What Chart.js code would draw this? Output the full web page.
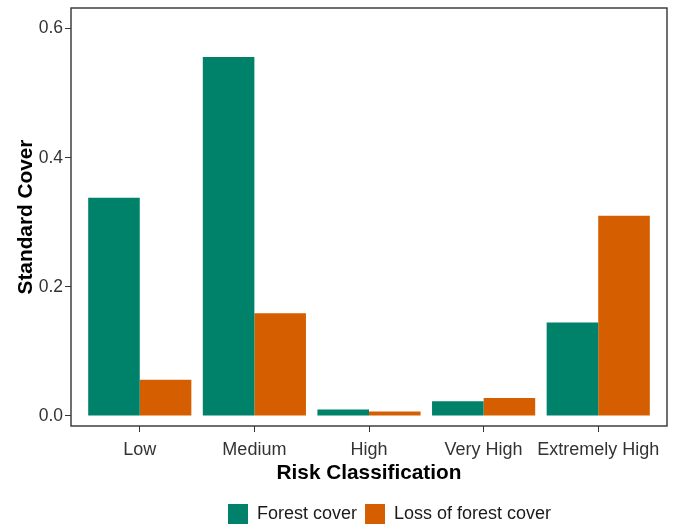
<!DOCTYPE html>
<html lang="en">
<head>
    <meta charset="UTF-8">
    <script src="https://cdn.jsdelivr.net/npm/chart.js"></script>
    <title>Standard Cover by Risk Classification</title>
    <style>
        html, body { margin: 0; padding: 0; background: #fff; }
        #wrap { width: 678px; height: 525px; }
    </style>
</head>
<body>
    <div id="wrap"><canvas id="riskChart" width="678" height="525"></canvas></div>

    <script>
        // data
        const categories = ['Low', 'Medium', 'High', 'Very High', 'Extremely High'];
        const forestCover = [0.338, 0.556, 0.010, 0.023, 0.145];
        const lossOfForestCover = [0.056, 0.159, 0.007, 0.028, 0.310];
        const yTicks = [0, 0.2, 0.4, 0.6];

        const green = '#00826A';
        const orange = '#D55E00';
        const fontFamily = '"Liberation Sans", Arial, sans-serif';

        // panel border like ggplot theme
        const panelBorder = {
            id: 'panelBorder',
            afterDraw(chart) {
                const a = chart.chartArea;
                const ctx = chart.ctx;
                ctx.save();
                ctx.strokeStyle = '#333333';
                ctx.lineWidth = 1.4;
                ctx.strokeRect(a.left, a.top, a.right - a.left, a.bottom - a.top);
                ctx.restore();
            }
        };

        // ggplot centres the legend under the panel, a bit right of the canvas middle
        const legendShift = {
            id: 'legendShift',
            afterLayout(chart) {
                const lg = chart.legend;
                const w = lg.right - lg.left;
                lg.left = 220;
                lg.right = lg.left + w;
            }
        };

        const ctx = document.getElementById('riskChart').getContext('2d');
        new Chart(ctx, {
            type: 'bar',
            data: {
                datasets: [
                    {
                        label: 'Forest cover',
                        data: forestCover.map((v, i) => ({ x: i + 1, y: v })),
                        backgroundColor: green,
                        borderWidth: 0
                    },
                    {
                        label: 'Loss of forest cover',
                        data: lossOfForestCover.map((v, i) => ({ x: i + 1, y: v })),
                        backgroundColor: orange,
                        borderWidth: 0
                    }
                ]
            },
            options: {
                responsive: false,
                animation: false,
                devicePixelRatio: 1,
                categoryPercentage: 0.9,
                barPercentage: 1.0,
                layout: { padding: { left: 0, right: 11, top: 8, bottom: -9 } },
                plugins: {
                    tooltip: { enabled: false },
                    legend: {
                        position: 'bottom',
                        align: 'start',
                        labels: {
                            boxWidth: 20,
                            boxHeight: 20,
                            padding: 8,
                            color: '#1a1a1a',
                            font: { family: fontFamily, size: 18 }
                        }
                    }
                },
                scales: {
                    x: {
                        type: 'linear',
                        min: 0.4,
                        max: 5.6,
                        offset: false,
                        afterBuildTicks: s => { s.ticks = categories.map((c, i) => ({ value: i + 1 })); },
                        afterFit: s => { s.height = 70; s.paddingLeft = 0; s.paddingRight = 0; },
                        grid: {
                            offset: false,
                            drawOnChartArea: false,
                            tickLength: 6,
                            tickColor: '#333333'
                        },
                        border: { display: false },
                        ticks: {
                            color: '#333333',
                            padding: 7,
                            maxRotation: 0,
                            autoSkip: false,
                            font: { family: fontFamily, size: 18 },
                            callback: v => categories[v - 1]
                        },
                        title: {
                            display: true,
                            text: 'Risk Classification',
                            color: '#000000',
                            padding: { top: 0, bottom: 10 },
                            font: { family: fontFamily, size: 20.8, weight: 'bold' }
                        }
                    },
                    y: {
                        min: -0.0155,
                        max: 0.632,
                        afterBuildTicks: s => { s.ticks = yTicks.map(v => ({ value: v })); },
                        afterFit: s => { s.width = 71; s.paddingTop = 0; s.paddingBottom = 0; },
                        grid: {
                            drawOnChartArea: false,
                            tickLength: 6,
                            tickColor: '#333333'
                        },
                        border: { display: false },
                        ticks: {
                            color: '#333333',
                            padding: 2,
                            font: { family: fontFamily, size: 17.5 },
                            callback: v => v.toFixed(1)
                        },
                        title: {
                            display: true,
                            text: 'Standard Cover',
                            color: '#000000',
                            padding: { top: 13.5, bottom: 0 },
                            font: { family: fontFamily, size: 20.8, weight: 'bold' }
                        }
                    }
                }
            },
            plugins: [panelBorder, legendShift]
        });
    </script>
</body>
</html>
